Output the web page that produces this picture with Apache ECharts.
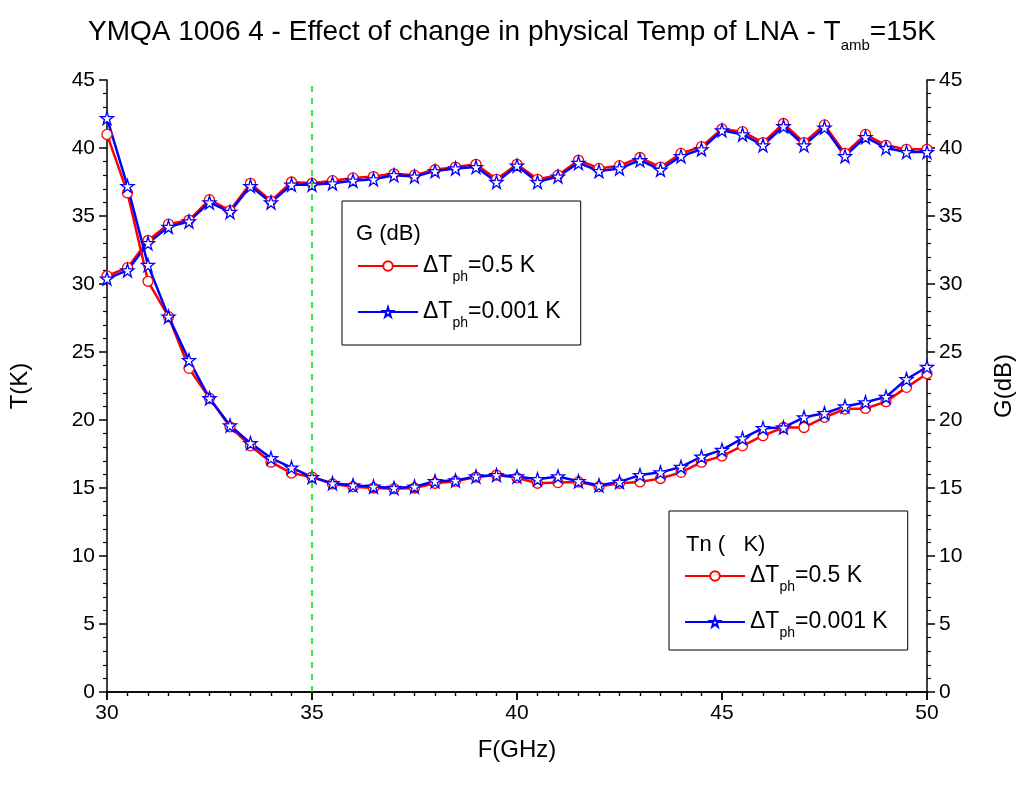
<!DOCTYPE html>
<html lang="en" style="height: 100%">
<head>
  <meta charset="utf-8" />
  <title>YMQA 1006 4</title>
</head>
<body style="height: 100%; margin: 0; background: #fff">
  <div id="container" style="width: 1024px; height: 789px"></div>

  <script src="https://cdn.jsdelivr.net/npm/echarts@6/dist/echarts.min.js"></script>

  <script>
    // frequencies, 30..50 GHz step 0.5
    const freq = [30, 30.5, 31, 31.5, 32, 32.5, 33, 33.5, 34, 34.5, 35, 35.5, 36, 36.5, 37, 37.5, 38, 38.5, 39, 39.5,
      40, 40.5, 41, 41.5, 42, 42.5, 43, 43.5, 44, 44.5, 45, 45.5, 46, 46.5, 47, 47.5, 48, 48.5, 49, 49.5, 50];

    // gain G (dB)
    const gainHot = [30.6, 31.2, 33.2, 34.4, 34.7, 36.2, 35.4, 37.4, 36.1, 37.5, 37.4, 37.6, 37.8, 37.9, 38.1, 38.0, 38.4, 38.6, 38.8, 37.7,
      38.8, 37.7, 38.0, 39.1, 38.5, 38.7, 39.3, 38.6, 39.6, 40.1, 41.4, 41.2, 40.4, 41.8, 40.4, 41.7, 39.6, 41.0, 40.2, 39.9, 39.9];
    const gainCold = [30.4, 31.0, 33.0, 34.2, 34.6, 36.0, 35.3, 37.2, 36.0, 37.3, 37.3, 37.4, 37.6, 37.7, 38.0, 37.9, 38.3, 38.5, 38.6, 37.5,
      38.7, 37.5, 37.9, 38.9, 38.3, 38.5, 39.1, 38.4, 39.4, 39.9, 41.3, 41.0, 40.2, 41.6, 40.2, 41.5, 39.4, 40.8, 40.0, 39.7, 39.7];

    // noise temperature Tn (K)
    const tnHot = [41.0, 36.7, 30.2, 27.6, 23.8, 21.6, 19.5, 18.1, 16.9, 16.1, 15.8, 15.3, 15.1, 15.0, 14.95, 15.0, 15.35, 15.5, 15.8, 15.95,
      15.75, 15.35, 15.4, 15.45, 15.1, 15.35, 15.45, 15.7, 16.15, 16.9, 17.35, 18.1, 18.85, 19.45, 19.45, 20.2, 20.8, 20.85, 21.35, 22.4, 23.4];
    const tnCold = [42.2, 37.2, 31.4, 27.6, 24.4, 21.6, 19.6, 18.3, 17.2, 16.5, 15.8, 15.35, 15.2, 15.1, 15.0, 15.1, 15.5, 15.55, 15.85, 15.95,
      15.85, 15.65, 15.85, 15.5, 15.2, 15.45, 15.95, 16.15, 16.55, 17.3, 17.8, 18.65, 19.4, 19.45, 20.2, 20.5, 21.0, 21.3, 21.7, 23.0, 23.9];

    const markerFreq = 35;

    function pairs(ys) {
      return freq.map((f, i) => [f, ys[i]]);
    }

    const font = '"Liberation Sans", Arial, sans-serif';
    const star = 'path://M50,0 L61,35 L98,35 L68,57 L79,91 L50,70 L21,91 L32,57 L2,35 L39,35 Z';

    const legendNames = {
      G05: '{d|ΔT}{s|ph}{d|=0.5 K}',
      G001: '{d|ΔT}{s|ph}{d|=0.001 K}',
      Tn05: '{d|ΔT}{s|ph}{d|=0.5 K}',
      Tn001: '{d|ΔT}{s|ph}{d|=0.001 K}'
    };
    const legendRich = {
      d: { fontSize: 23, fontFamily: font, color: '#000', lineHeight: 28 },
      s: { fontSize: 14, fontFamily: font, color: '#000', lineHeight: 14, padding: [22, 0, 0, 0] }
    };

    function mkSeries(name, ys, yIdx, color, symbol, size) {
      return {
        name: name,
        type: 'line',
        xAxisIndex: 0,
        yAxisIndex: yIdx,
        data: pairs(ys),
        symbol: symbol,
        symbolSize: size,
        showAllSymbol: true,
        lineStyle: { color: color, width: 2.5 },
        itemStyle: { color: '#fff', borderColor: color, borderWidth: 1.3 },
        emphasis: { disabled: true },
        z: 3
      };
    }

    const axisLine = { lineStyle: { color: '#000', width: 1.5 } };
    const tick = { show: true, length: 8, lineStyle: { color: '#000', width: 1.5 } };
    const minor = { show: true, length: 4, lineStyle: { color: '#000', width: 1.2 } };
    const label = { color: '#000', fontSize: 21, fontFamily: font };
    const nameStyle = { color: '#000', fontSize: 24, fontFamily: font };

    function legendBox(names, left, top, padBottom) {
      return {
        data: names,
        orient: 'vertical',
        left: left,
        top: top,
        padding: [47, 20, padBottom, 15],
        itemGap: 10,
        itemWidth: 60,
        itemHeight: 12,
        borderColor: '#000',
        borderWidth: 1,
        selectedMode: false,
        formatter: n => legendNames[n],
        textStyle: { rich: legendRich }
      };
    }

    var dom = document.getElementById('container');
    var myChart = echarts.init(dom);

    var option = {
      animation: false,
      title: {
        text: '{t|YMQA 1006 4 - Effect of change in physical Temp of LNA - T}{s|amb}{t|=15K}',
        left: 'center',
        top: 11,
        textStyle: {
          fontWeight: 'normal',
          rich: {
            t: { fontSize: 28, fontFamily: font, fontWeight: 'normal', color: '#000', lineHeight: 33 },
            s: { fontSize: 15, fontFamily: font, fontWeight: 'normal', color: '#000', lineHeight: 15, padding: [27, 0, 0, 0] }
          }
        }
      },
      grid: { left: 103, right: 94, top: 80, bottom: 97 },
      legend: [
        legendBox(['G05', 'G001'], 342, 201, 15),
        legendBox(['Tn05', 'Tn001'], 669, 511, 10)
      ],
      graphic: [
        { type: 'text', left: 356, top: 223, style: { text: 'G (dB)', fontSize: 22, fontFamily: font, fill: '#000' } },
        { type: 'text', left: 686, top: 534, style: { text: 'Tn (   K)', fontSize: 22, fontFamily: font, fill: '#000' } }
      ],
      xAxis: [
        {
          type: 'value', position: 'bottom', min: 30, max: 50, interval: 5,
          name: 'F(GHz)', nameLocation: 'middle', nameGap: 46, nameTextStyle: nameStyle,
          axisLine: axisLine, axisTick: tick, minorTick: Object.assign({ splitNumber: 10 }, minor),
          axisLabel: Object.assign({ margin: 11 }, label), splitLine: { show: false }
        },
        {
          type: 'value', position: 'top', min: 30, max: 50, interval: 5,
          axisLine: axisLine, axisTick: Object.assign({ inside: true }, tick),
          minorTick: Object.assign({ splitNumber: 10 }, minor),
          axisLabel: { show: false }, splitLine: { show: false }
        }
      ],
      yAxis: [
        {
          type: 'value', position: 'left', min: 0, max: 45, interval: 5,
          name: 'T(K)', nameLocation: 'middle', nameGap: 75, nameTextStyle: nameStyle,
          axisLine: axisLine, axisTick: tick, minorTick: Object.assign({ splitNumber: 5 }, minor),
          axisLabel: Object.assign({ margin: 12 }, label), splitLine: { show: false }
        },
        {
          type: 'value', position: 'right', min: 0, max: 45, interval: 5,
          name: 'G(dB)', nameLocation: 'middle', nameGap: 65, nameTextStyle: nameStyle,
          axisLine: axisLine, axisTick: tick, minorTick: Object.assign({ splitNumber: 5 }, minor),
          axisLabel: Object.assign({ margin: 12 }, label), splitLine: { show: false }
        }
      ],
      series: [
        Object.assign(mkSeries('G05', gainHot, 1, '#ff0000', 'circle', 10), {
          markLine: {
            silent: true,
            symbol: 'none',
            label: { show: false },
            lineStyle: { color: '#00dd00', type: [6, 6], width: 1.5 },
            data: [{ xAxis: markerFreq }]
          }
        }),
        mkSeries('G001', gainCold, 1, '#0000ff', star, 13),
        mkSeries('Tn05', tnHot, 0, '#ff0000', 'circle', 10),
        mkSeries('Tn001', tnCold, 0, '#0000ff', star, 13)
      ]
    };

    myChart.setOption(option);

    window.onresize = function() {
      myChart.resize();
    };
  </script>
</body>
</html>
